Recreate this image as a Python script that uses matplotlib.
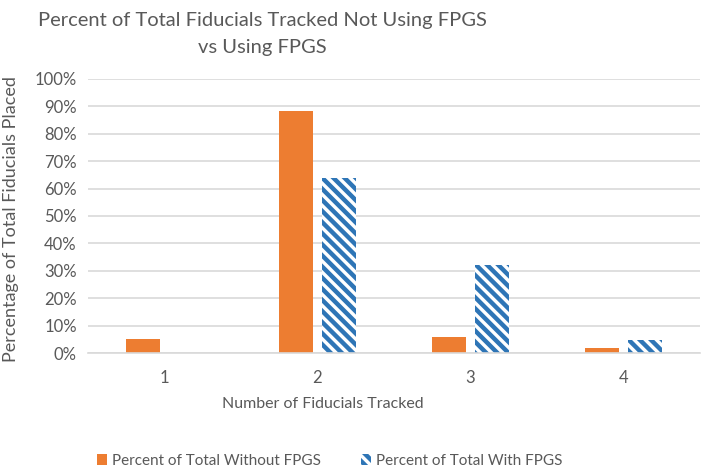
import matplotlib.pyplot as plt
import numpy as np
from matplotlib.ticker import PercentFormatter

# data
categories = ['1', '2', '3', '4']
without_fpgs = [5.0, 88.3, 6.0, 2.0]
with_fpgs = [0.0, 64.0, 32.0, 4.6]
y_ticks = list(range(0, 101, 10))

orange = '#ED7D31'
blue = '#2E75B6'
grey_text = '#595959'

plt.rcParams['font.family'] = ['Lato', 'DejaVu Sans']
plt.rcParams['hatch.linewidth'] = 3.2

fig = plt.figure(figsize=(7.09, 4.69), dpi=100)
ax = fig.add_axes([0.124, 0.2473, 0.863, 0.5843])

x = np.arange(len(categories))
w = 0.222
gap = 0.06
ax.bar(x - w / 2 - gap / 2, without_fpgs, width=w, color=orange,
       label='Percent of Total Without FPGS')
ax.bar(x + w / 2 + gap / 2, with_fpgs, width=w, facecolor='white',
       edgecolor=blue, linewidth=0, hatch='\\\\\\',
       label='Percent of Total With FPGS')

ax.set_xlim(-0.5, len(categories) - 0.5)
ax.set_ylim(0, 100)
ax.set_yticks(y_ticks)
ax.yaxis.set_major_formatter(PercentFormatter(decimals=0))
ax.set_xticks(x)
ax.set_xticklabels(categories)
ax.tick_params(length=0, labelsize=12, colors=grey_text, pad=8)
ax.tick_params(axis='x', pad=12)
ax.grid(axis='y', color='#D9D9D9', linewidth=1.2)
ax.set_axisbelow(True)
for s in ['top', 'right', 'left']:
    ax.spines[s].set_visible(False)
ax.spines['bottom'].set_color('#D9D9D9')
ax.spines['bottom'].set_linewidth(1.2)

ax.set_xlabel('Number of Fiducials Tracked', fontsize=11.5, color=grey_text)
ax.xaxis.set_label_coords(0.384, -0.162)
ax.set_ylabel('Percentage of Total Fiducials Placed', fontsize=13, color=grey_text)
ax.yaxis.set_label_coords(-0.113, 0.49)

fig.text(0.37, 0.975, 'Percent of Total Fiducials Tracked Not Using FPGS\nvs Using FPGS',
         ha='center', va='top', fontsize=14.5, color=grey_text, linespacing=1.75)

fig.legend(loc='center', bbox_to_anchor=(0.465, 0.017), ncol=2, frameon=False,
           fontsize=11, labelcolor=grey_text, handlelength=0.7, handleheight=0.7,
           handletextpad=0.3, columnspacing=2.6)

fig.savefig('out.png', dpi=100)
